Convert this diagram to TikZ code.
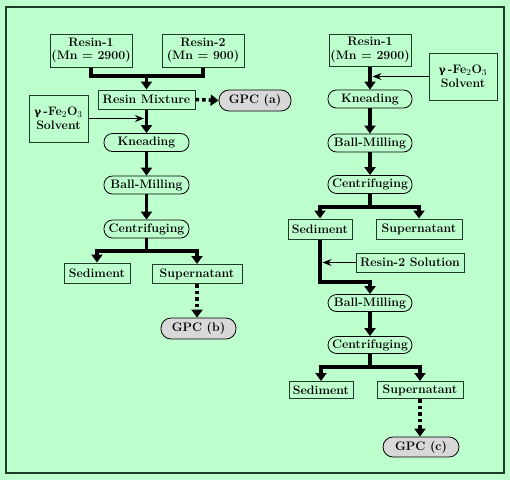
\documentclass[tikz,border=0pt]{standalone}
\usepackage{fontspec}
\newfontfamily\grfont[Scale=0.85]{DejaVu Serif}
\usetikzlibrary{arrows.meta}
\definecolor{bg}{RGB}{190,255,206}
\definecolor{boxline}{RGB}{30,60,40}
\definecolor{gpcfill}{RGB}{216,216,216}
\tikzset{
  every node/.style={font=\fontsize{12.3}{13.5}\selectfont\bfseries, inner sep=0pt, align=center},
  box/.style={draw=boxline, line width=1pt, fill=bg},
  proc/.style={draw=black, line width=0.8pt, fill=bg, rounded corners=8.5pt},
  gpc/.style={draw=black, line width=0.8pt, fill=gpcfill, rounded corners=10pt},
  flow/.style={line width=3.6pt, line join=miter},
  flowarr/.style={flow, -{Triangle[width=11pt,length=8pt]}},
  thinarr/.style={line width=1.2pt, -{Stealth[width=7pt,length=9pt]}, shorten >=2.5pt},
  dotarr/.style={line width=3.6pt, dash pattern=on 3.6pt off 3pt, -{Triangle[width=11pt,length=8pt]}},
}
\newcommand{\gfo}{{\grfont γ}\,-Fe$_2$O$_3$}
\begin{document}
\begin{tikzpicture}[x=1pt,y=-1pt]
\fill[bg] (0,0) rectangle (510,480);
\useasboundingbox (0,0) rectangle (510,480);
\draw[boxline, line width=1.3pt] (6,7) rectangle (504,473);

% ---------- left column ----------
\node[box, minimum width=82pt, minimum height=33pt] (r1) at (91,50.5) {Resin-1\\(Mn = 2900)};
\node[box, minimum width=82pt, minimum height=33pt] (r2) at (203,50.5) {Resin-2\\(Mn = 900)};
\node[box, minimum width=97pt, minimum height=19pt] (mix) at (146.5,99.5) {Resin Mixture};
\node[gpc, minimum width=72pt, minimum height=21pt] (gpca) at (255,100.5) {GPC (a)};
\node[box, minimum width=59pt, minimum height=47pt] (solvL) at (58.5,118.5) {\gfo\\Solvent};
\node[proc, minimum width=85pt, minimum height=18pt] (kn) at (146.5,142.5) {Kneading};
\node[proc, minimum width=85pt, minimum height=18pt] (bm) at (146.5,185) {Ball-Milling};
\node[proc, minimum width=85pt, minimum height=18pt] (cen) at (146.5,229) {Centrifuging};
\node[box, minimum width=66pt, minimum height=20pt] (sed) at (97,273) {Sediment};
\node[box, minimum width=90pt, minimum height=19pt] (sup) at (197,274) {Supernatant};
\node[gpc, minimum width=75pt, minimum height=21pt] (gpcb) at (198.5,328.5) {GPC (b)};

\coordinate (j1) at (146.5,76);
\coordinate (b1) at (146.5,251);
\draw[flow] (r1.south) |- (j1) -| (r2.south);
\draw[flowarr] (j1) -- (mix.north);
\draw[dotarr] (mix.east) -- (gpca.west);
\draw[flowarr] (mix.south) -- (kn.north);
\draw[thinarr] (solvL.east) -- (solvL.east -| mix.south);
\draw[flowarr] (kn.south) -- (bm.north);
\draw[flowarr] (bm.south) -- (cen.north);
\draw[flow] (cen.south) -- (b1);
\draw[flowarr] (b1) -| (sed.north);
\draw[flowarr] (b1) -| (sup.north);
\draw[dotarr] (sup.south) -- (sup.south |- gpcb.north);

% ---------- right column ----------
\node[box, minimum width=82pt, minimum height=32pt] (r1R) at (370,50) {Resin-1\\(Mn = 2900)};
\node[box, minimum width=68pt, minimum height=47pt] (solvR) at (463,76.5) {\gfo\\Solvent};
\node[proc, minimum width=84pt, minimum height=18pt] (knR) at (370,99) {Kneading};
\node[proc, minimum width=84pt, minimum height=18pt] (bmR) at (370,143) {Ball-Milling};
\node[proc, minimum width=84pt, minimum height=18pt] (cenR) at (370,184.5) {Centrifuging};
\node[box, minimum width=64pt, minimum height=20pt] (sedR) at (320,229) {Sediment};
\node[box, minimum width=86pt, minimum height=20pt] (supR) at (419,229) {Supernatant};
\node[box, minimum width=108pt, minimum height=19pt] (r2s) at (410,262.5) {Resin-2 Solution};
\node[proc, minimum width=84pt, minimum height=17pt] (bm2) at (370,303) {Ball-Milling};
\node[proc, minimum width=84pt, minimum height=17pt] (cen2) at (370,345) {Centrifuging};
\node[box, minimum width=64pt, minimum height=17pt] (sed2) at (321,390) {Sediment};
\node[box, minimum width=86pt, minimum height=17pt] (sup2) at (420,390) {Supernatant};
\node[gpc, minimum width=76pt, minimum height=20pt] (gpcc) at (421,447) {GPC (c)};

\coordinate (b2) at (370,207);
\coordinate (j3) at (320,282);
\coordinate (b3) at (370,367);
\draw[flowarr] (r1R.south) -- (knR.north);
\draw[thinarr] (solvR.west) -- (solvR.west -| r1R.south);
\draw[flowarr] (knR.south) -- (bmR.north);
\draw[flowarr] (bmR.south) -- (cenR.north);
\draw[flow] (cenR.south) -- (b2);
\draw[flowarr] (b2) -| (sedR.north);
\draw[flowarr] (b2) -| (supR.north);
\draw[flowarr] (sedR.south) -- (j3) -| (bm2.north);
\draw[thinarr] (r2s.west) -- (r2s.west -| sedR.south);
\draw[flowarr] (bm2.south) -- (cen2.north);
\draw[flow] (cen2.south) -- (b3);
\draw[flowarr] (b3) -| (sed2.north);
\draw[flowarr] (b3) -| (sup2.north);
\draw[dotarr] (sup2.south) -- (sup2.south |- gpcc.north);
\end{tikzpicture}
\end{document}
